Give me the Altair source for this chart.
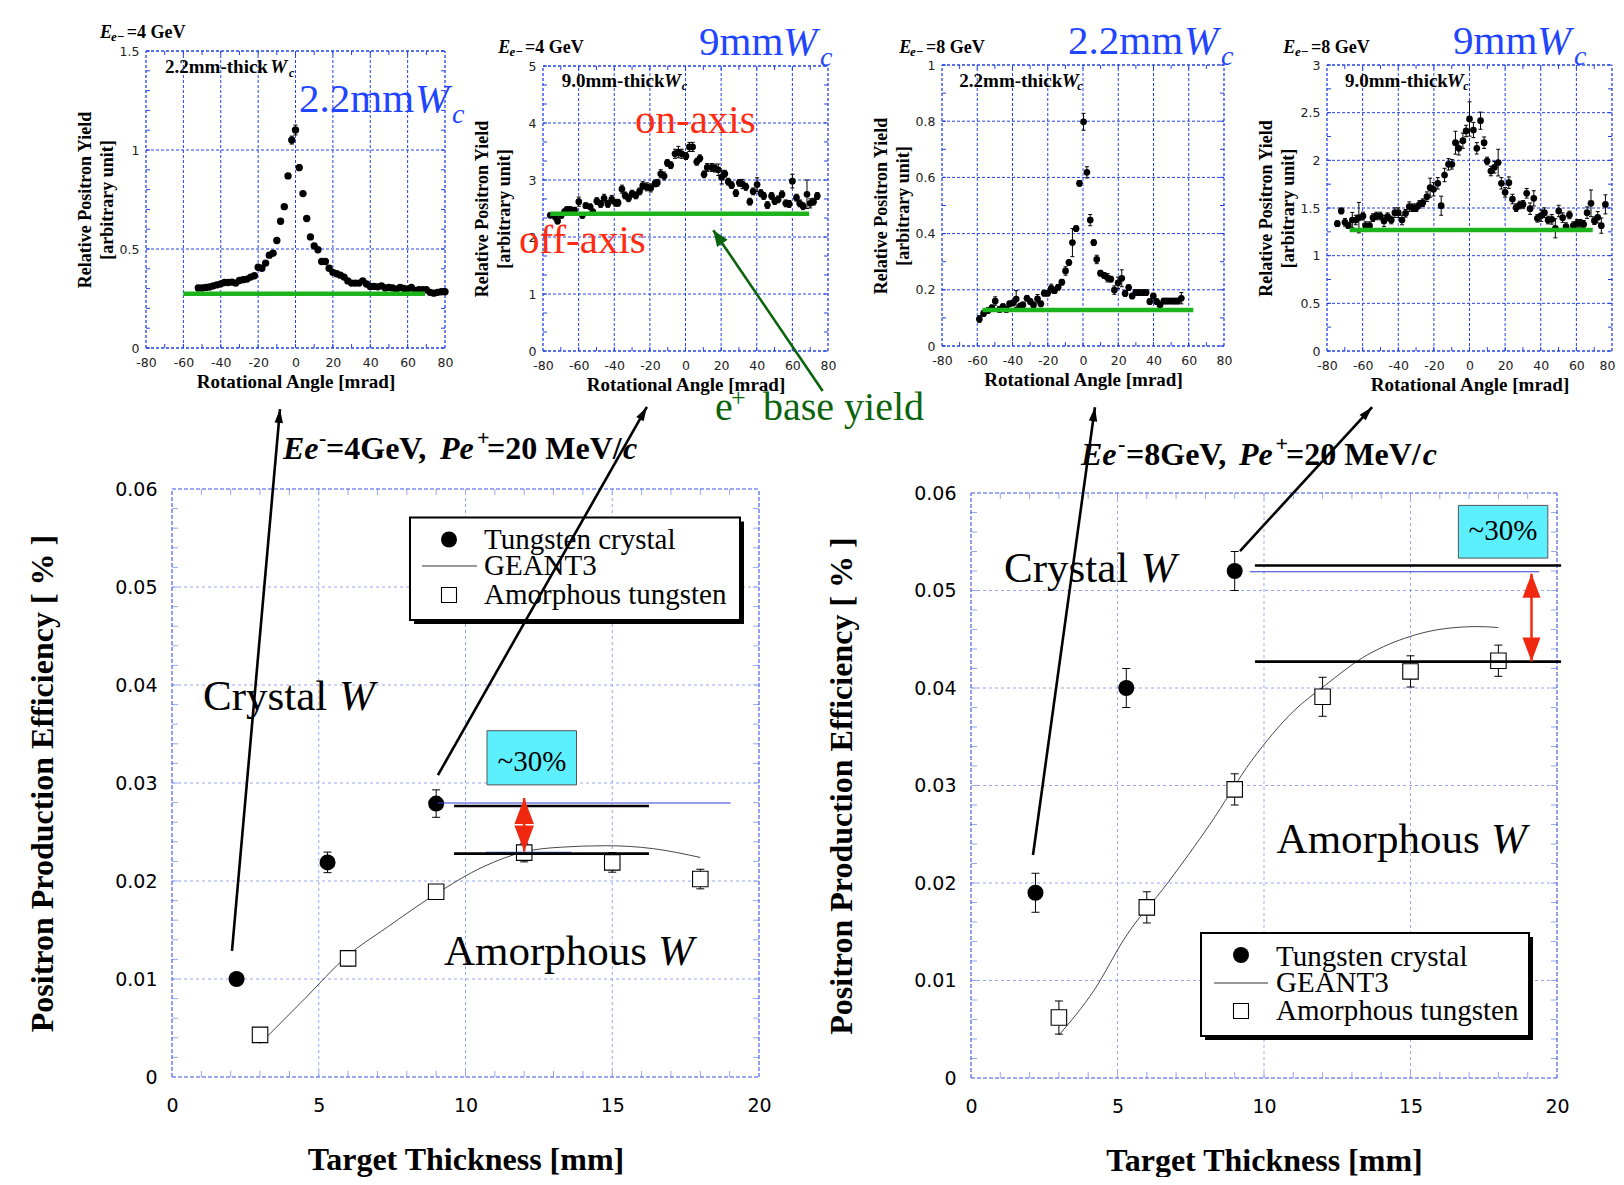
import altair as alt
import pandas as pd

W, H = 1608, 1169
SERIF = "Liberation Serif"
SANS = "DejaVu Sans"

# ------------------------------------------------------------------ data
# (a) Ee- = 4 GeV, 2.2 mm-thick crystal
a_x = [-52, -50, -48, -46, -44, -42, -40, -38, -36, -34, -32, -30, -28, -26, -24, -22,
       -20, -18, -16, -14, -12, -10, -8, -6, -4, -2, 0, 2, 4, 6, 8, 10, 12, 14, 16, 18, 20,
       22, 24, 26, 28, 30, 32, 34, 36, 38, 40, 42, 44, 46, 48, 50, 52, 54, 56, 58, 60,
       62, 64, 66, 68, 70, 72, 74, 76, 78, 80]
a_y = [0.303, 0.303, 0.306, 0.308, 0.314, 0.319, 0.324, 0.331, 0.331, 0.333, 0.328, 0.341, 0.345, 0.348, 0.358, 0.365,
       0.408, 0.403, 0.429, 0.469, 0.479, 0.543, 0.640, 0.714, 0.869, 1.050, 1.101, 0.911, 0.780, 0.654, 0.561, 0.516, 0.496, 0.437, 0.437, 0.403, 0.382,
       0.375, 0.368, 0.358, 0.339, 0.328, 0.328, 0.328, 0.339, 0.323, 0.311, 0.311, 0.309, 0.314, 0.303, 0.306, 0.303, 0.297, 0.306, 0.301, 0.297,
       0.306, 0.291, 0.294, 0.294, 0.294, 0.281, 0.277, 0.281, 0.284, 0.284]
a_err = [0.005, 0.005, 0.005, 0.005, 0.005, 0.005, 0.005, 0.005, 0.005, 0.005, 0.005, 0.005, 0.005, 0.005, 0.005, 0.005,
         0.006, 0.006, 0.006, 0.008, 0.008, 0.008, 0.010, 0.010, 0.012, 0.020, 0.025, 0.015, 0.010, 0.010, 0.008, 0.008, 0.008, 0.008, 0.008, 0.006, 0.006,
         0.005, 0.005, 0.005, 0.005, 0.005, 0.005, 0.005, 0.005, 0.005, 0.005, 0.005, 0.005, 0.005, 0.005, 0.005, 0.005, 0.005, 0.005, 0.005, 0.005,
         0.005, 0.005, 0.005, 0.005, 0.005, 0.005, 0.005, 0.005, 0.005, 0.005]
a_base_x = [-60, 69.3]
a_base_y = [0.274]

# (b) Ee- = 4 GeV, 9.0 mm-thick crystal
b_x = [-75.9, -73.1, -71.8, -69.7, -68.0, -66.6, -64.7, -62.3, -59.9, -57.9, -56.0, -53.5, -52.0, -49.8, -47.6, -45.7,
       -43.6, -41.4, -39.3, -37.8, -35.7, -33.9, -32.0, -30.0, -27.9, -25.8, -24.0, -21.7, -19.5, -17.1, -15.8, -13.9,
       -12.0, -10.2, -8.3, -5.9, -4.0, -2.1, 0.3, 2.2, 4.0, 6.3, 8.1, 10.4, 12.2, 14.7, 16.5, 18.4, 20.3, 22.1, 24.0,
       25.9, 28.3, 30.2, 32.0, 33.9, 36.1, 38.0, 40.2, 42.3, 43.9, 46.0, 48.3, 50.1, 52.0, 54.2, 56.3, 58.2, 60.0,
       62.3, 64.1, 66.0, 68.2, 70.0, 71.9, 74.0]
b_y = [2.38, 2.35, 2.28, 2.38, 2.44, 2.48, 2.48, 2.47, 2.62, 2.38, 2.55, 2.53, 2.44, 2.63, 2.58, 2.68,
       2.58, 2.66, 2.60, 2.60, 2.84, 2.73, 2.68, 2.76, 2.73, 2.80, 2.90, 2.88, 2.86, 2.94, 2.95, 3.11,
       3.07, 3.30, 3.26, 3.46, 3.49, 3.46, 3.42, 3.58, 3.58, 3.32, 3.38, 3.10, 3.22, 3.22, 3.21, 3.18, 3.05, 3.11, 2.97,
       2.91, 2.77, 2.95, 2.93, 2.88, 2.62, 2.80, 2.92, 2.77, 2.72, 2.56, 2.72, 2.63, 2.66, 2.75, 2.59, 2.58, 2.98,
       2.69, 2.59, 2.54, 2.75, 2.59, 2.62, 2.72]
b_err = [0.04, 0.05, 0.05, 0.05, 0.05, 0.05, 0.05, 0.05, 0.08, 0.05, 0.05, 0.05, 0.05, 0.06, 0.06, 0.07,
         0.06, 0.07, 0.06, 0.06, 0.07, 0.06, 0.06, 0.06, 0.06, 0.06, 0.07, 0.07, 0.07, 0.06, 0.06, 0.07,
         0.07, 0.06, 0.06, 0.08, 0.10, 0.08, 0.06, 0.08, 0.08, 0.06, 0.06, 0.06, 0.07, 0.07, 0.07, 0.10, 0.12, 0.06, 0.06,
         0.06, 0.06, 0.06, 0.08, 0.06, 0.06, 0.06, 0.12, 0.06, 0.06, 0.06, 0.06, 0.06, 0.06, 0.06, 0.06, 0.06, 0.12,
         0.06, 0.06, 0.06, 0.25, 0.08, 0.06, 0.06]
b_base_x = [-75.9, 69.4]
b_base_y = [2.41]

# (c) Ee- = 8 GeV, 2.2 mm-thick crystal
c_x = [-58.8, -56.4, -53.9, -51.7, -49.8, -47.3, -45.4, -43.5, -41.7, -39.8, -37.9, -35.6, -34.1, -31.8, -29.9,
       -28.1, -25.8, -23.9, -22.0, -20.1, -18.0, -16.2, -14.1, -12.0, -9.9, -8.0, -6.0, -3.9, -2.0, 0.3,
       2.2, 4.1, 6.1, 7.8, 9.9, 12.0, 13.9, 15.8, 17.8, 19.9, 22.0, 23.9, 25.9, 27.9, 29.9,
       31.8, 33.9, 35.8, 37.9, 39.9, 41.8, 43.7, 45.8, 47.7, 49.8, 51.8, 53.7, 55.8]
c_y = [0.096, 0.116, 0.126, 0.136, 0.160, 0.130, 0.140, 0.130, 0.150, 0.153, 0.167, 0.142, 0.146, 0.170, 0.158,
       0.146, 0.168, 0.150, 0.188, 0.188, 0.205, 0.197, 0.209, 0.227, 0.267, 0.297, 0.368, 0.418, 0.579, 0.798,
       0.618, 0.448, 0.368, 0.308, 0.259, 0.251, 0.243, 0.238, 0.199, 0.225, 0.241, 0.187, 0.208, 0.178, 0.190,
       0.190, 0.190, 0.190, 0.158, 0.178, 0.158, 0.146, 0.160, 0.160, 0.160, 0.160, 0.160, 0.170]
c_err = [0.012, 0.010, 0.010, 0.010, 0.015, 0.010, 0.010, 0.010, 0.010, 0.010, 0.030, 0.010, 0.010, 0.010, 0.010,
         0.010, 0.015, 0.010, 0.010, 0.010, 0.015, 0.010, 0.010, 0.010, 0.015, 0.010, 0.050, 0.010, 0.010, 0.030,
         0.020, 0.020, 0.010, 0.015, 0.010, 0.010, 0.015, 0.010, 0.015, 0.020, 0.030, 0.010, 0.010, 0.010, 0.010,
         0.010, 0.010, 0.010, 0.010, 0.010, 0.010, 0.010, 0.010, 0.010, 0.010, 0.010, 0.010, 0.020]
c_base_x = [-57.0, 62.6]
c_base_y = [0.128]

# (d) Ee- = 8 GeV, 9.0 mm-thick crystal
d_x = [-74.2, -72.0, -69.9, -68.0, -65.8, -63.9, -62.1, -59.8, -58.3, -56.1, -54.2, -52.3, -50.1, -48.0, -46.0, -43.9,
       -41.9, -40.0, -37.9, -35.9, -33.8, -31.8, -29.9, -28.0, -26.2, -23.9, -22.1, -20.2, -17.8, -15.9, -14.0, -11.8,
       -9.9, -7.9, -6.0, -3.7, -1.9, 0.0, 2.2, 4.1, 6.2, 8.2, 9.9, 12.0, 14.0, 16.1, 17.9, 20.0,
       22.1, 24.1, 26.2, 28.2, 30.1, 32.1, 34.0, 36.1, 38.1, 40.2, 42.1, 44.1, 46.2, 48.2, 50.1, 52.3,
       54.2, 56.1, 58.3, 60.4, 62.2, 64.1, 66.0, 68.2, 70.1, 72.0, 74.0, 76.3]
d_y = [1.336, 1.469, 1.350, 1.315, 1.374, 1.374, 1.399, 1.416, 1.315, 1.315, 1.399, 1.416, 1.416, 1.364, 1.409, 1.374,
       1.451, 1.451, 1.374, 1.444, 1.514, 1.503, 1.503, 1.538, 1.556, 1.619, 1.713, 1.696, 1.759, 1.524, 1.846, 1.958,
       1.958, 2.185, 2.126, 2.206, 2.308, 2.434, 2.318, 2.126, 2.416, 2.185, 1.993, 1.888, 1.927, 1.976, 1.759, 1.664,
       1.766, 1.594, 1.503, 1.531, 1.538, 1.654, 1.493, 1.601, 1.392, 1.420, 1.451, 1.374, 1.381, 1.287, 1.469, 1.399,
       1.304, 1.427, 1.315, 1.339, 1.339, 1.329, 1.451, 1.549, 1.367, 1.402, 1.315, 1.538]
d_err = [0.03, 0.03, 0.04, 0.03, 0.08, 0.05, 0.16, 0.04, 0.04, 0.04, 0.04, 0.04, 0.04, 0.06, 0.04, 0.04,
         0.05, 0.05, 0.05, 0.04, 0.05, 0.04, 0.04, 0.04, 0.04, 0.05, 0.10, 0.07, 0.06, 0.10, 0.07, 0.06,
         0.05, 0.12, 0.07, 0.08, 0.06, 0.18, 0.08, 0.06, 0.09, 0.06, 0.04, 0.05, 0.06, 0.14, 0.06, 0.05,
         0.06, 0.05, 0.04, 0.04, 0.04, 0.05, 0.06, 0.08, 0.04, 0.06, 0.05, 0.04, 0.05, 0.10, 0.06, 0.05,
         0.04, 0.04, 0.04, 0.04, 0.04, 0.04, 0.06, 0.14, 0.04, 0.06, 0.08, 0.10]
d_base_x = [-67.3, 69.2]
d_base_y = [1.269]

# (e) Ee- = 4 GeV, Pe+ = 20 MeV/c : efficiency vs thickness
e_cry_x = [2.2, 5.3, 9.0]
e_cry_y = [0.0100, 0.0219, 0.0279]
e_cry_err = [0.0, 0.00105, 0.0014]
e_am_x = [3, 6, 9, 12, 15, 18]
e_am_y = [0.0043, 0.0121, 0.0189, 0.0229, 0.0219, 0.0202]
e_am_err = [0.0004, 0.00075, 0.0007, 0.00095, 0.0010, 0.0010]
e_g3_x = [3.0, 4.56, 5.95, 7.34, 8.9, 10.64, 12.03, 13.25, 14.8, 16.4, 18.0]
e_g3_y = [0.0034, 0.0081, 0.0123, 0.0153, 0.0185, 0.0215, 0.0230, 0.02345, 0.0236, 0.0233, 0.0224]

# (f) Ee- = 8 GeV, Pe+ = 20 MeV/c
f_cry_x = [2.2, 5.3, 9.0]
f_cry_y = [0.0190, 0.0400, 0.0520]
f_cry_err = [0.0020, 0.0020, 0.0020]
f_am_x = [3, 6, 9, 12, 15, 18]
f_am_y = [0.0062, 0.0175, 0.0296, 0.0391, 0.0417, 0.0428]
f_am_err = [0.0017, 0.0016, 0.0016, 0.0020, 0.0016, 0.0016]
f_g3_x = [3.0, 4.2, 5.28, 6.71, 8.15, 9.59, 11.0, 12.1, 13.36, 14.8, 16.2, 17.3, 18.0]
f_g3_y = [0.0044, 0.0090, 0.0145, 0.0200, 0.0260, 0.0326, 0.0376, 0.0403, 0.0431, 0.0451, 0.0461, 0.0463, 0.0462]

# tick labels
top_x_ticks = [-80, -60, -40, -20, 0, 20, 40, 60, 80]
a_y_ticks = [0, 0.5, 1, 1.5]
b_y_ticks = [0, 1, 2, 3, 4, 5]
c_y_ticks = [0, 0.2, 0.4, 0.6, 0.8, 1]
d_y_ticks = [0, 0.5, 1, 1.5, 2, 2.5, 3]
bot_x_ticks = [0, 5, 10, 15, 20]
bot_y_ticks = [0, 0.01, 0.02, 0.03, 0.04, 0.05, 0.06]

# ------------------------------------------------------------------ layout
GEOM = {
    "a": {"xr": [138, 437], "yr": [340, 43], "xd": [-80, 80], "yd": [0, 1.5]},
    "b": {"xr": [535, 820], "yr": [343, 58], "xd": [-80, 80], "yd": [0, 5]},
    "c": {"xr": [934, 1216], "yr": [338, 57], "xd": [-80, 80], "yd": [0, 1]},
    "d": {"xr": [1319, 1604], "yr": [343, 57], "xd": [-80, 80], "yd": [0, 3]},
    "e": {"xr": [164, 751], "yr": [1069, 481], "xd": [0, 20], "yd": [0, 0.06]},
    "f": {"xr": [963, 1549], "yr": [1070, 485], "xd": [0, 20], "yd": [0, 0.06]},
}

layers = []


def rng(a, b, s):
    n = int(round((b - a) / s))
    return [round(a + i * s, 6) for i in range(n + 1)]


def X(p, f="x", axis=None):
    g = GEOM[p]
    return alt.X(f"{f}:Q", scale=alt.Scale(domain=g["xd"], range=g["xr"], nice=False, zero=False), axis=axis)


def Y(p, f="y", axis=None):
    g = GEOM[p]
    return alt.Y(f"{f}:Q", scale=alt.Scale(domain=g["yd"], range=g["yr"], nice=False, zero=False), axis=axis)


def px2dx(p, px):
    g = GEOM[p]
    return px / abs(g["xr"][1] - g["xr"][0]) * (g["xd"][1] - g["xd"][0])


def px2dy(p, px):
    g = GEOM[p]
    return px / abs(g["yr"][0] - g["yr"][1]) * (g["yd"][1] - g["yd"][0])


def seg(p, x, x2, y, y2, **mk):
    df = pd.DataFrame({"x": x, "x2": x2, "y": y, "y2": y2})
    return alt.Chart(df).mark_rule(**mk).encode(x=X(p), x2=alt.X2("x2"), y=Y(p), y2=alt.Y2("y2"))


def add_frame(p, gx, gy, mx, my, st):
    g = GEOM[p]
    x0, x1 = g["xd"]
    y0, y1 = g["yd"]
    xs = list(gx) + [x0] * len(gy)
    x2s = list(gx) + [x1] * len(gy)
    ys = [y0] * len(gx) + list(gy)
    y2s = [y1] * len(gx) + list(gy)
    layers.append(seg(p, xs, x2s, ys, y2s, color=st["grid"], strokeDash=st["gdash"], strokeWidth=st["gw"]))
    dx = px2dx(p, st["tick"])
    dy = px2dy(p, st["tick"])
    mxs, mx2, mys, my2 = [], [], [], []
    for t in mx:
        mxs += [t, t]; mx2 += [t, t]; mys += [y0, y1]; my2 += [y0 + dy, y1 - dy]
    for t in my:
        mxs += [x0, x1]; mx2 += [x0 + dx, x1 - dx]; mys += [t, t]; my2 += [t, t]
    layers.append(seg(p, mxs, mx2, mys, my2, color=st["tickc"], strokeWidth=1))
    layers.append(seg(p, [x0, x1, x0, x0], [x0, x1, x1, x1], [y0, y0, y0, y1], [y1, y1, y0, y1],
                      color=st["frame"], strokeDash=st["fdash"], strokeWidth=st["fw"]))


def add_errors(p, xs, ys, es, cap_px):
    lo = [y - e for y, e in zip(ys, es)]
    hi = [y + e for y, e in zip(ys, es)]
    hw = px2dx(p, cap_px / 2)
    layers.append(seg(p, xs, xs, lo, hi, color="black", strokeWidth=1))
    cx = [x - hw for x in xs] * 2
    cx2 = [x + hw for x in xs] * 2
    layers.append(seg(p, cx, cx2, lo + hi, lo + hi, color="black", strokeWidth=1))


def add_points(p, xs, ys, kind, size):
    df = pd.DataFrame({"x": xs, "y": ys})
    if kind == "circle":
        m = alt.Chart(df).mark_point(shape="circle", filled=True, color="black", size=size, opacity=1)
    else:
        m = alt.Chart(df).mark_point(shape="square", filled=True, fill="white", stroke="black",
                                     strokeWidth=1.1, size=size, opacity=1)
    layers.append(m.encode(x=X(p), y=Y(p)))


def add_axes(p, xt, yt, xtitle, ytitle, big, last_shift=0):
    g = GEOM[p]
    df = pd.DataFrame({"x": g["xd"], "y": g["yd"]})
    if big:
        lfs, lc, xlp, ylp, tfs, yfs, xty, ytx = 19, "black", 19, 15, 32, 32, 92, -130
    else:
        lfs, lc, xlp, ylp, tfs, yfs, xty, ytx = 12.5, "#222", 8, 7, 19, 18, 39, -61
    common = dict(labelExpr="'' + datum.value", labelOverlap=False, labelFlush=False, domain=False,
                  ticks=False, tickSize=0, grid=False, labelFont=SANS, labelFontSize=lfs, labelColor=lc,
                  titleFont=SERIF, titleFontWeight="bold", titleColor="black")
    extra = {}
    if last_shift:
        extra["labelOffset"] = {"condition": {"test": f"datum.value == {xt[-1]}", "value": last_shift}, "value": 0}
    xa = alt.Axis(orient="bottom", offset=g["yr"][0] - H, values=xt, labelPadding=xlp, title=xtitle,
                  titleFontSize=tfs, titleY=xty, titleBaseline="alphabetic", **common, **extra)
    ya = alt.Axis(orient="left", offset=-g["xr"][0], values=yt, labelPadding=ylp, title=ytitle,
                  titleFontSize=yfs, titleX=ytx, titleBaseline="middle", titleLineHeight=22, **common)
    layers.append(alt.Chart(df).mark_point(opacity=0).encode(x=X(p, axis=xa), y=Y(p, axis=ya)))


TOP_ST = dict(grid="#2443e6", gdash=[3, 2], gw=1, frame="#2443e6", fdash=[3, 2], fw=1.3, tickc="#2443e6", tick=4)
BOT_ST = dict(grid="#8c9cf2", gdash=[3, 3], gw=0.9, frame="#3a52e4", fdash=[4, 2], fw=1.1, tickc="#98a8f2", tick=6)
GREEN = "#1db31d"

top_panels = [
    ("a", a_x, a_y, a_err, a_base_x, a_base_y, a_y_ticks, [0.5, 1.0], 0.1, 54, 0),
    ("b", b_x, b_y, b_err, b_base_x, b_base_y, b_y_ticks, [1, 2, 3, 4], 1 / 3, 45, 0),
    ("c", c_x, c_y, c_err, c_base_x, c_base_y, c_y_ticks, [0.2, 0.4, 0.6, 0.8], 0.1, 45, 0),
    ("d", d_x, d_y, d_err, d_base_x, d_base_y, d_y_ticks, [0.5, 1, 1.5, 2, 2.5], 0.25, 45, -5),
]
for p, xs, ys, es, bx, by, yt, gy, mstep, psz, shift in top_panels:
    g = GEOM[p]
    add_frame(p, [-60, -40, -20, 0, 20, 40, 60], gy, rng(-70, 70, 10), rng(g["yd"][0], g["yd"][1], mstep), TOP_ST)
    add_errors(p, xs, ys, es, 4)
    add_points(p, xs, ys, "circle", psz)
    layers.append(seg(p, [bx[0]], [bx[1]], by, by, color=GREEN, strokeWidth=4.5))
    add_axes(p, top_x_ticks, yt, "Rotational Angle [mrad]", ["Relative Positron Yield", "[arbitrary unit]"], False, shift)

bot_panels = [
    ("e", e_cry_x, e_cry_y, e_cry_err, e_am_x, e_am_y, e_am_err, e_g3_x, e_g3_y),
    ("f", f_cry_x, f_cry_y, f_cry_err, f_am_x, f_am_y, f_am_err, f_g3_x, f_g3_y),
]
for p, cx_, cy_, ce_, ax_, ay_, ae_, gx_, gy_ in bot_panels:
    add_frame(p, [5, 10, 15], [0.01, 0.02, 0.03, 0.04, 0.05], rng(1, 19, 1), rng(0.002, 0.058, 0.002), BOT_ST)
    layers.append(alt.Chart(pd.DataFrame({"x": gx_, "y": gy_})).mark_line(
        color="#333", strokeWidth=0.9, interpolate="monotone").encode(x=X(p), y=Y(p)))
    add_errors(p, ax_, ay_, ae_, 8)
    add_errors(p, cx_, cy_, ce_, 8)
    add_points(p, ax_, ay_, "square", 240)
    add_points(p, cx_, cy_, "circle", 256)
    add_axes(p, bot_x_ticks, bot_y_ticks, "Target Thickness [mm]", "Positron Production Efficiency [ % ]", True)

# ~30 % comparison lines
BLUE_LINE = "#2f3fd6"
layers.append(seg("e", [9.06, 10.69], [19.03, 13.61], [0.02796, 0.02294], [0.02796, 0.02294], color=BLUE_LINE, strokeWidth=1.1))
layers.append(seg("e", [9.61, 9.61], [16.25, 16.25], [0.02766, 0.02279], [0.02766, 0.02279], color="black", strokeWidth=2.6))
layers.append(seg("f", [9.52], [19.4], [0.05192], [0.05192], color=BLUE_LINE, strokeWidth=1.1))
layers.append(seg("f", [9.69, 9.69], [20.14, 20.14], [0.05257, 0.04271], [0.05257, 0.04271], color="black", strokeWidth=2.6))

HEAD = "M0,0L0.6,2L-0.6,2Z"
RHEAD = "M0,0L0.75,2L-0.75,2Z"


def add_heads(p, xs, ys, angs, shape, size, color):
    df = pd.DataFrame({"x": xs, "y": ys, "a": angs})
    layers.append(alt.Chart(df).mark_point(shape=shape, filled=True, color=color, size=size, opacity=1,
                                           strokeWidth=0).encode(
        x=X(p), y=Y(p), angle=alt.Angle("a:Q", scale=None)))


RED = "#f0280f"
layers.append(seg("e", [12.0], [12.0], [0.02847], [0.02300], color=RED, strokeWidth=2.5))
add_heads("e", [12.0, 12.0], [0.02847, 0.02300], [0, 180], RHEAD, 676, RED)
layers.append(seg("f", [19.13], [19.13], [0.05172], [0.04271], color=RED, strokeWidth=2.5))
add_heads("f", [19.13, 19.13], [0.05172, 0.04271], [0, 180], RHEAD, 576, RED)


# ------------------------------------------------------------------ annotations
def txt(rows, size, color="black", weight="normal", style="normal", align="left", font=SERIF):
    df = pd.DataFrame(rows, columns=["x", "y", "t"])
    return alt.Chart(df).mark_text(align=align, baseline="alphabetic", font=font, fontSize=size,
                                   fontWeight=weight, fontStyle=style, color=color).encode(
        x=alt.X("x:Q", scale=None, axis=None), y=alt.Y("y:Q", scale=None, axis=None), text="t:N")


def box(rows, **mk):
    df = pd.DataFrame(rows, columns=["x", "x2", "y", "y2"])
    return alt.Chart(df).mark_rect(**mk).encode(
        x=alt.X("x:Q", scale=None, axis=None), x2=alt.X2("x2"),
        y=alt.Y("y:Q", scale=None, axis=None), y2=alt.Y2("y2"))


def sym(rows, **mk):
    df = pd.DataFrame(rows, columns=["x", "y"])
    return alt.Chart(df).mark_point(opacity=1, **mk).encode(
        x=alt.X("x:Q", scale=None, axis=None), y=alt.Y("y:Q", scale=None, axis=None))


def hline(rows, **mk):
    df = pd.DataFrame(rows, columns=["x", "x2", "y"])
    return alt.Chart(df).mark_rule(**mk).encode(
        x=alt.X("x:Q", scale=None, axis=None), x2=alt.X2("x2"),
        y=alt.Y("y:Q", scale=None, axis=None))


# small panel headers
layers.append(txt([(92, 30.3, "E"), (490.3, 45.3, "E"), (891.3, 45.3, "E"), (1275.3, 45.3, "E")], 18, weight="bold", style="italic"))
layers.append(txt([(103, 33.3, "e\u2212"), (501.5, 48.3, "e\u2212"), (902, 48.3, "e\u2212"), (1287, 48.3, "e\u2212")], 13, weight="bold", style="italic"))
layers.append(txt([(118.7, 30.3, "=4 GeV"), (517, 45.3, "=4 GeV"), (918, 45.3, "=8 GeV"), (1303, 45.3, "=8 GeV")], 18, weight="bold"))
layers.append(txt([(157, 65.3, "2.2mm-thick"), (553.7, 78.7, "9.0mm-thick"), (951.3, 78.7, "2.2mm-thick"), (1337, 78.7, "9.0mm-thick")], 19, weight="bold"))
layers.append(txt([(262.3, 65.3, "W"), (656, 78.7, "W"), (1053.7, 78.7, "W"), (1438.7, 78.7, "W")], 19, weight="bold", style="italic"))
layers.append(txt([(281, 68.5, "c"), (673.7, 82, "c"), (1069.3, 82, "c"), (1455.3, 82, "c")], 12, weight="bold", style="italic"))

# blue thickness labels
BLUE = "#1f45ff"
layers.append(txt([(291, 104, "2.2mm"), (691, 47, "9mm"), (1060, 46, "2.2mm"), (1445, 46, "9mm")], 41, color=BLUE))
layers.append(txt([(407, 104, "W"), (775, 47, "W"), (1176, 46, "W"), (1529, 46, "W")], 41, color=BLUE, style="italic"))
layers.append(txt([(444, 115, "c"), (812, 58, "c"), (1213, 57, "c"), (1566, 57, "c")], 28, color=BLUE, style="italic"))

# red / green labels
layers.append(txt([(627, 124.7, "on-axis"), (511, 245, "off-axis")], 41, color="#ff2a12"))
DGREEN = "#0b640b"
layers.append(txt([(707, 412, "e"), (755, 412, "base yield")], 40, color=DGREEN))
layers.append(txt([(723, 398, "+")], 26, color=DGREEN))

# big panel titles
layers.append(txt([(275, 451, "Ee"), (432, 451, "Pe"), (615, 451, "c"),
                   (1073, 457, "Ee"), (1231, 457, "Pe"), (1414.7, 457, "c")], 32, weight="bold", style="italic"))
layers.append(txt([(318, 451, "=4GeV,"), (479, 451, "=20 MeV/"),
                   (1118, 457, "=8GeV,"), (1278, 457, "=20 MeV/")], 32, weight="bold"))
layers.append(txt([(311, 437, "-"), (469, 437, "+"), (1110, 443, "-"), (1267.6, 443, "+")], 22, weight="bold"))

# Crystal W / Amorphous W
layers.append(txt([(195, 702, "Crystal"), (996, 574, "Crystal"), (436, 957, "Amorphous"), (1268.6, 845.4, "Amorphous")], 43))
layers.append(txt([(331, 702, "W"), (1132.5, 574, "W"), (650, 957, "W"), (1483, 845.4, "W")], 43, style="italic"))

# legends
layers.append(box([(406, 736, 513.6, 616), (1197, 1525, 929, 1032)], color="black"))
layers.append(box([(402, 732, 509.6, 612), (1193, 1521, 925, 1028)], fill="white", stroke="black", strokeWidth=2))
layers.append(sym([(441, 531.5), (1233, 947)], shape="circle", filled=True, color="black", size=256))
layers.append(sym([(441, 587), (1233, 1003)], shape="square", filled=True, fill="white", stroke="black", strokeWidth=1.1, size=225))
layers.append(hline([(414, 469, 558), (1206, 1260, 975)], color="#333", strokeWidth=1))
layers.append(txt([(476, 541, "Tungsten crystal"), (476, 567, "GEANT3"), (476, 596, "Amorphous tungsten"),
                   (1268, 958, "Tungsten crystal"), (1268, 984, "GEANT3"), (1268, 1012, "Amorphous tungsten")], 29))

# ~30% boxes
layers.append(box([(479, 568.5, 722.7, 776.9), (1450.4, 1539.8, 497.4, 550.1)], fill="#5cf0ff", stroke="#555", strokeWidth=1))
layers.append(txt([(524, 763, "~30%"), (1495, 532, "~30%")], 29, align="center"))

# ------------------------------------------------------------------ arrows (on top)
layers.append(seg("e", [2.044, 9.06], [3.68, 16.18], [0.01286, 0.0308], [0.06816, 0.06837], color="black", strokeWidth=2.6))
add_heads("e", [3.68, 16.18], [0.06816, 0.06837], [5.1, 29.6], HEAD, 196, "black")
layers.append(seg("f", [2.116, 9.18], [4.23, 13.69], [0.02287, 0.05405], [0.0688, 0.0688], color="black", strokeWidth=2.6))
add_heads("f", [4.23, 13.69], [0.0688, 0.0688], [7.9, 42.5], HEAD, 196, "black")
layers.append(seg("b", [77.0], [15.6], [-0.70], [2.12], color=DGREEN, strokeWidth=2.6))
add_heads("b", [15.6], [2.12], [325.5], "M0,0L0.8,2L-0.8,2Z", 256, DGREEN)

chart = alt.layer(*layers).resolve_scale(x="independent", y="independent").properties(
    width=W, height=H, autosize=alt.AutoSizeParams(type="none"), padding=0, background="white"
).configure_view(stroke=None)

chart.save("out.html", embed_options={"renderer": "svg", "actions": False})
